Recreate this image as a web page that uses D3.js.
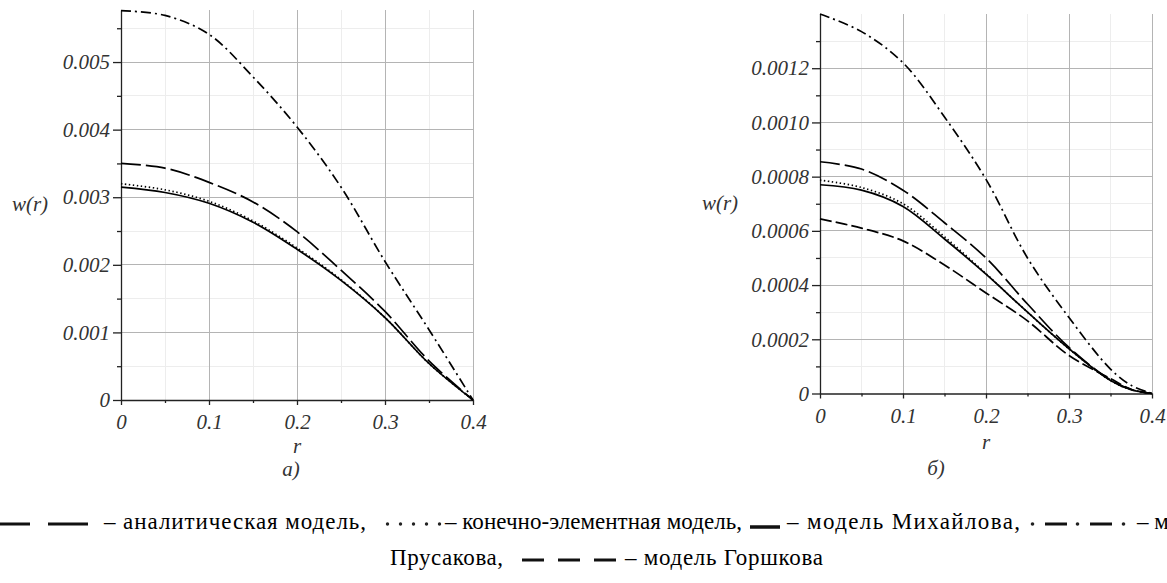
<!DOCTYPE html>
<meta charset="utf-8">
<style>
body { margin: 0; background: #fff; }
svg { display: block; }
.grid-major { stroke: #b4b4b4; stroke-width: 1; shape-rendering: crispEdges; }
.grid-minor { stroke: #ededed; stroke-width: 1; shape-rendering: crispEdges; }
.axis path, .axis line { stroke: #222; stroke-width: 1.3; }
.axis text { font-family: "Liberation Serif", "Times New Roman", serif; font-style: italic; font-size: 21px; fill: #333; }
.curve { fill: none; stroke: #000; stroke-width: 1.7; }
.lbl { font-family: "Liberation Serif", "Times New Roman", serif; font-style: italic; font-size: 21px; fill: #333; }
.legend text { font-family: "Liberation Serif", "Times New Roman", serif; font-size: 23px; fill: #000; }
.legend line { stroke: #111; stroke-width: 3; }
</style>
<body>
<script src="https://cdn.jsdelivr.net/npm/d3@7"></script>
<script>

// --- data ---
// panel а)
var rLeft = [0, 0.05, 0.1, 0.15, 0.2, 0.25, 0.3, 0.35, 0.4];
var prusakovLeft   = [0.00576, 0.00569, 0.00541, 0.00478, 0.00404, 0.00315, 0.00205, 0.00104, 0];
var analyticLeft   = [0.00350, 0.00343, 0.00322, 0.00293, 0.00249, 0.00192, 0.00131, 0.00058, 0];
var mikhailovLeft  = [0.00315, 0.00307, 0.00291, 0.00263, 0.00223, 0.00177, 0.00122, 0.00054, 0];
var femLeft        = [0.00320, 0.00311, 0.00294, 0.00265, 0.00225, 0.00178, 0.00122, 0.00054, 0];

// panel б)
var rRight = [0, 0.05, 0.1, 0.15, 0.2, 0.25, 0.3, 0.35, 0.375, 0.4];
var prusakovRight  = [0.00140, 0.001335, 0.00122, 0.00102, 0.00079, 0.00050, 0.00028, 0.00009, 0.00003, 0];
var analyticRight  = [0.000855, 0.000828, 0.00075, 0.00063, 0.00050, 0.00033, 0.00017, 0.00005, 0.000015, 0];
var femRight       = [0.000787, 0.00076, 0.000700, 0.000578, 0.000442, 0.00030, 0.000165, 0.000048, 0.000014, 0];
var mikhailovRight = [0.000770, 0.00075, 0.000690, 0.000570, 0.000440, 0.00030, 0.000165, 0.000048, 0.000014, 0];
var gorshkovRight  = [0.000644, 0.00061, 0.000563, 0.000474, 0.000371, 0.000268, 0.000140, 0.000055, 0.000015, 0];

// ticks
var xTicks = [0, 0.1, 0.2, 0.3, 0.4];
var xTickLabels = ["0", "0.1", "0.2", "0.3", "0.4"];
var xMinor = [0.05, 0.15, 0.25, 0.35];
var yTicksLeft = [0, 0.001, 0.002, 0.003, 0.004, 0.005];
var yLabelsLeft = ["0", "0.001", "0.002", "0.003", "0.004", "0.005"];
var yMinorLeft = [0.0005, 0.0015, 0.0025, 0.0035, 0.0045, 0.0055];
var yTicksRight = [0, 0.0002, 0.0004, 0.0006, 0.0008, 0.0010, 0.0012];
var yLabelsRight = ["0", "0.0002", "0.0004", "0.0006", "0.0008", "0.0010", "0.0012"];
var yMinorRight = [0.0001, 0.0003, 0.0005, 0.0007, 0.0009, 0.0011, 0.0013];

var dash = {
  analytic: "20,5",
  fem: "1.4,2.6",
  mikhailov: null,
  prusakov: "10,4,2,4",
  gorshkov: "12,4"
};

var svg = d3.select("body").append("svg")
    .attr("width", 1167)
    .attr("height", 583);

function panel(p) {
  var x = d3.scaleLinear().domain([0, 0.4]).range(p.xr);
  var y = d3.scaleLinear().domain([0, p.ymax]).range(p.yr);
  var g = svg.append("g");

  // grid
  g.selectAll(".gmx").data(xMinor).enter().append("line")
      .attr("class", "grid-minor")
      .attr("x1", x).attr("x2", x).attr("y1", y(0)).attr("y2", y(p.ymax));
  g.selectAll(".gmy").data(p.yMinor).enter().append("line")
      .attr("class", "grid-minor")
      .attr("x1", x(0)).attr("x2", x(0.4)).attr("y1", y).attr("y2", y);
  g.selectAll(".gx").data(xTicks.slice(1)).enter().append("line")
      .attr("class", "grid-major")
      .attr("x1", x).attr("x2", x).attr("y1", y(0)).attr("y2", y(p.ymax));
  g.selectAll(".gy").data(p.yTicks.slice(1)).enter().append("line")
      .attr("class", "grid-major")
      .attr("x1", x(0)).attr("x2", x(0.4)).attr("y1", y).attr("y2", y);

  // axes
  var ax = g.append("g").attr("class", "axis")
      .attr("transform", "translate(0," + y(0) + ")")
      .call(d3.axisBottom(x).tickValues(xTicks)
        .tickFormat(function(d, i) { return xTickLabels[i]; })
        .tickSize(5).tickSizeOuter(0));
  ax.selectAll("text").attr("y", p.xLabelOff).attr("dy", 0);
  g.append("g").attr("class", "axis")
      .attr("transform", "translate(0," + y(0) + ")")
      .call(d3.axisBottom(x).tickValues(xMinor).tickFormat("").tickSize(3))
      .select(".domain").remove();

  g.append("g").attr("class", "axis")
      .attr("transform", "translate(" + x(0) + ",0)")
      .call(d3.axisLeft(y).tickValues(p.yTicks)
        .tickFormat(function(d, i) { return p.yLabels[i]; })
        .tickSize(8).tickPadding(3).tickSizeOuter(0));
  g.append("g").attr("class", "axis")
      .attr("transform", "translate(" + x(0) + ",0)")
      .call(d3.axisLeft(y).tickValues(p.yMinor).tickFormat("").tickSize(4))
      .select(".domain").remove();

  // curves
  var line = d3.line()
      .x(function(d) { return x(d[0]); })
      .y(function(d) { return y(Math.max(0, d[1])); })
      .curve(d3.curveCatmullRom.alpha(0.5));
  p.series.forEach(function(s) {
    g.append("path")
        .attr("class", "curve")
        .attr("d", line(p.r.map(function(r, i) { return [r, s.values[i]]; })))
        .attr("stroke-dasharray", dash[s.key]);
  });

  // labels
  g.append("text").attr("class", "lbl")
      .attr("x", p.wx).attr("y", (y(0) + y(p.ymax)) / 2 + 6)
      .attr("text-anchor", "middle").text("w(r)");
  g.append("text").attr("class", "lbl")
      .attr("x", x(0.2)).attr("y", y(0) + p.rOff)
      .attr("text-anchor", "middle").text("r");
  g.append("text").attr("class", "lbl")
      .attr("x", p.capX).attr("y", y(0) + p.capOff)
      .attr("text-anchor", "middle").text(p.caption);
}

panel({
  xr: [121, 473], yr: [400, 10], ymax: 0.00577,
  yTicks: yTicksLeft, yLabels: yLabelsLeft, yMinor: yMinorLeft,
  xLabelOff: 29, rOff: 53, capOff: 76, capX: 291, wx: 30, caption: "а)",
  r: rLeft,
  series: [
    {key: "prusakov", values: prusakovLeft},
    {key: "analytic", values: analyticLeft},
    {key: "mikhailov", values: mikhailovLeft},
    {key: "fem", values: femLeft}
  ]
});

panel({
  xr: [820, 1152], yr: [393.5, 14], ymax: 0.0014,
  yTicks: yTicksRight, yLabels: yLabelsRight, yMinor: yMinorRight,
  xLabelOff: 29, rOff: 55, capOff: 81, capX: 936, wx: 720, caption: "б)",
  r: rRight,
  series: [
    {key: "prusakov", values: prusakovRight},
    {key: "analytic", values: analyticRight},
    {key: "fem", values: femRight},
    {key: "mikhailov", values: mikhailovRight},
    {key: "gorshkov", values: gorshkovRight}
  ]
});

// --- legend ---
function sampleLongDash(g) {
  g.append("line").attr("x1", -10).attr("x2", 30);
  g.append("line").attr("x1", 48).attr("x2", 88);
}
function sampleDots(g) {
  d3.range(5).forEach(function(i) {
    g.append("circle").attr("cx", 1.5 + i * 13).attr("r", 1.7).attr("fill", "#222");
  });
}
function sampleSolid(g) {
  g.append("line").attr("x1", 0).attr("x2", 30).attr("y1", 3).attr("y2", 3).style("stroke-width", 3.5);
}
function sampleDashDot(g) {
  [0, 45, 91].forEach(function(c) {
    g.append("circle").attr("cx", c + 1.5).attr("r", 1.8).attr("fill", "#222");
  });
  g.append("line").attr("x1", 14).attr("x2", 36);
  g.append("line").attr("x1", 59).attr("x2", 81);
}
function sampleDashed(g) {
  [0, 36, 72].forEach(function(c) {
    g.append("line").attr("x1", c).attr("x2", c + 22);
  });
}

function legendLine(items, baseline) {
  var g = svg.append("g").attr("class", "legend");
  items.forEach(function(it) {
    if (it.text) {
      var t = g.append("text").attr("x", it.x).attr("y", baseline).text(it.text);
      if (it.w) t.attr("textLength", it.w).attr("lengthAdjust", "spacing");
    } else {
      it.sample(g.append("g").attr("transform", "translate(" + it.x + "," + (baseline - 5) + ")"));
    }
  });
}

legendLine([
  {sample: sampleLongDash, x: 0},
  {text: "– аналитическая модель,", x: 104, w: 262},
  {sample: sampleDots, x: 386},
  {text: "– конечно-элементная модель,", x: 445, w: 297},
  {sample: sampleSolid, x: 750},
  {text: "– модель Михайлова,", x: 787, w: 233},
  {sample: sampleDashDot, x: 1031},
  {text: "– модель", x: 1137}
], 529);

legendLine([
  {text: "Прусакова,", x: 390, w: 113},
  {sample: sampleDashed, x: 522},
  {text: "– модель  Горшкова", x: 625, w: 198}
], 565);

</script>
</body>
